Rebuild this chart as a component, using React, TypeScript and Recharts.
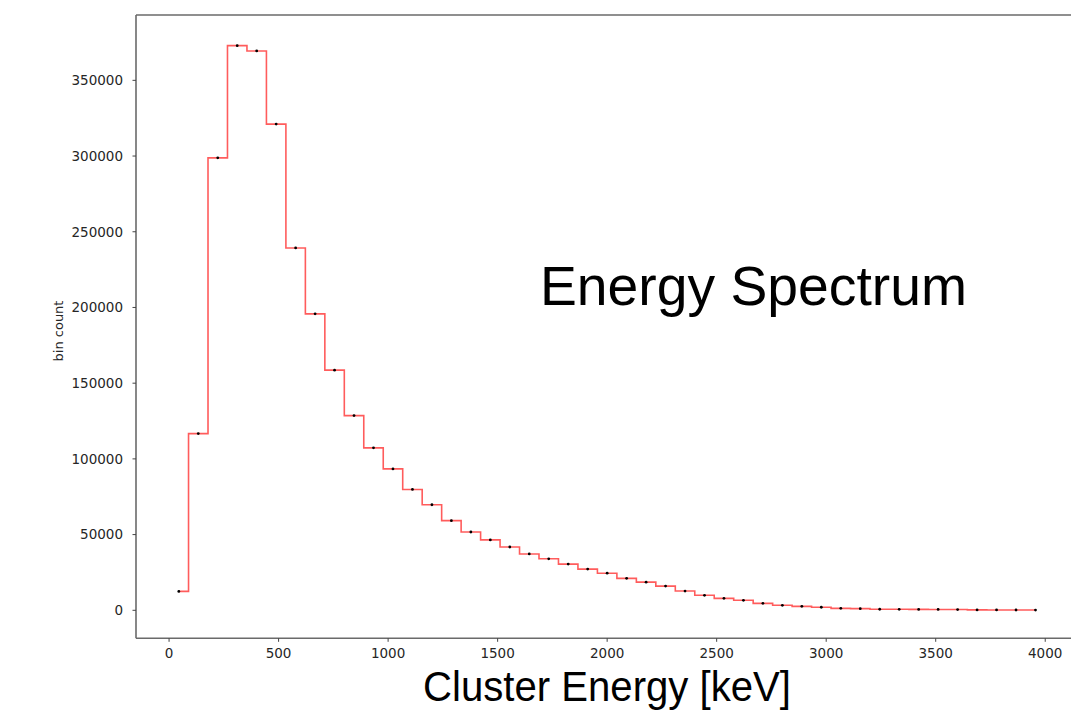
import React from 'react';
import { LineChart, Line, XAxis, YAxis, ReferenceLine } from 'recharts';

const binCenters = [
  44.4, 133.3, 222.2, 311.1, 400.0, 488.9, 577.8, 666.7, 755.6, 844.4,
  933.3, 1022.2, 1111.1, 1200.0, 1288.9, 1377.8, 1466.7, 1555.6, 1644.4, 1733.3,
  1822.2, 1911.1, 2000.0, 2088.9, 2177.8, 2266.7, 2355.6, 2444.4, 2533.3, 2622.2,
  2711.1, 2800.0, 2888.9, 2977.8, 3066.7, 3155.6, 3244.4, 3333.3, 3422.2, 3511.1,
  3600.0, 3688.9, 3777.8, 3866.7, 3955.6,
];

const binCounts = [
  12500, 116700, 298800, 372900, 369400, 321100, 239300, 195800, 158600, 128600,
  107300, 93400, 79800, 69700, 59200, 51700, 46500, 41800, 37200, 34000,
  30500, 27200, 24500, 21100, 18600, 16000, 12700, 9900, 7900, 6600,
  4600, 3300, 2600, 2000, 1300, 1100, 700, 650, 600, 550,
  500, 250, 220, 200, 180,
];

const xTicks = [0, 500, 1000, 1500, 2000, 2500, 3000, 3500, 4000];
const yTicks = [0, 50000, 100000, 150000, 200000, 250000, 300000, 350000];
const yMax = 393150;
const yMin = -18490;

const data = binCenters.map((e, i) => ({ energy: e, count: binCounts[i] }));

const spine = { stroke: '#6a6a6a', strokeWidth: 1.6 };
const tickStyle = { fontSize: 13.5, fill: '#262626', fontFamily: 'DejaVu Sans' };

export default function App() {
  return (
    <div
      style={{
        position: 'absolute',
        left: 0,
        top: 0,
        width: 1071,
        height: 716,
        overflow: 'hidden',
        background: '#fff',
      }}
    >
      <LineChart
        width={1090}
        height={716}
        data={data}
        margin={{ top: 15, right: 11.7, bottom: 0, left: 0 }}
      >
        <XAxis
          dataKey="energy"
          type="number"
          domain={[-151, 4151]}
          ticks={xTicks}
          allowDataOverflow
          height={77.7}
          tickSize={3.5}
          tickMargin={7}
          axisLine={spine}
          tickLine={{ stroke: '#444', strokeWidth: 1 }}
          tick={tickStyle}
          interval={0}
        />
        <YAxis
          type="number"
          domain={[yMin, yMax]}
          ticks={yTicks}
          allowDataOverflow
          width={136}
          tickSize={3.5}
          tickMargin={9.5}
          axisLine={spine}
          tickLine={{ stroke: '#444', strokeWidth: 1 }}
          tick={tickStyle}
          interval={0}
        />
        <ReferenceLine y={yMax} stroke="#6a6a6a" strokeWidth={1.6} ifOverflow="visible" />
        <Line
          dataKey="count"
          type="step"
          stroke="#ff5c5c"
          strokeWidth={1.6}
          dot={{ r: 1.4, fill: '#000', stroke: '#000', strokeWidth: 0 }}
          activeDot={false}
          isAnimationActive={false}
        />
      </LineChart>
      <svg
        width={1071}
        height={716}
        style={{ position: 'absolute', left: 0, top: 0, pointerEvents: 'none' }}
      >
        <text
          transform="translate(63,331) rotate(-90)"
          textAnchor="middle"
          fontFamily="DejaVu Sans"
          fontSize={13}
          fill="#262626"
        >
          bin count
        </text>
        <text
          x={540}
          y={305}
          fontFamily="Liberation Sans, Arial, sans-serif"
          fontSize={55}
          fill="#000"
          textLength={427}
          lengthAdjust="spacingAndGlyphs"
        >
          Energy Spectrum
        </text>
        <text
          x={423}
          y={700.5}
          fontFamily="Liberation Sans, Arial, sans-serif"
          fontSize={42}
          fill="#000"
          textLength={368}
          lengthAdjust="spacingAndGlyphs"
        >
          Cluster Energy [keV]
        </text>
      </svg>
    </div>
  );
}
